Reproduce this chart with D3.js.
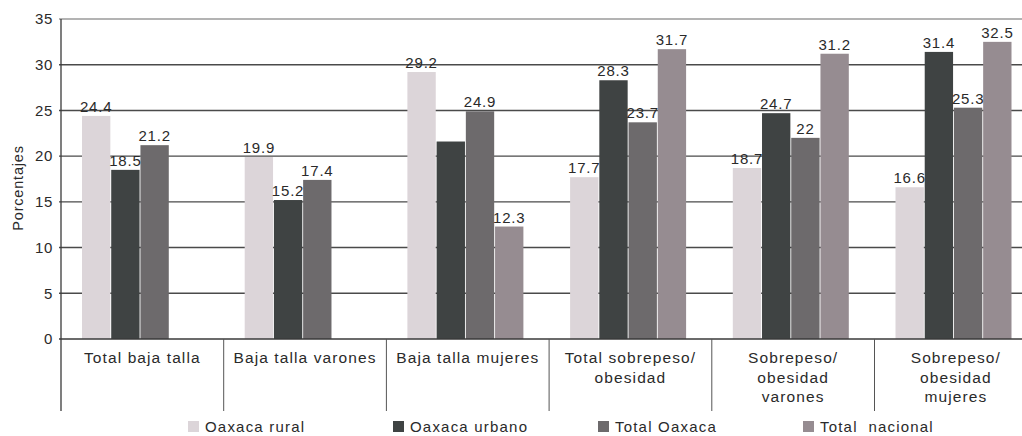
<!DOCTYPE html>
<html>
<head>
<meta charset="utf-8">
<script src="https://cdn.jsdelivr.net/npm/d3@7"></script>
<style>
  html, body { margin: 0; padding: 0; background: #fff; }
  svg { display: block; }
  text { font-family: "Liberation Sans", Arial, sans-serif; fill: #2a2a2a; }
</style>
</head>
<body>
<svg id="chart" width="1022" height="436"></svg>
<script>
const categories = [
  "Total baja talla",
  "Baja talla varones",
  "Baja talla mujeres",
  "Total sobrepeso/\nobesidad",
  "Sobrepeso/\nobesidad\nvarones",
  "Sobrepeso/\nobesidad\nmujeres"
];
const seriesNames = ["Oaxaca rural", "Oaxaca urbano", "Total Oaxaca", "Total  nacional"];
const oaxacaRural   = [24.4, 19.9, 29.2, 17.7, 18.7, 16.6];
const oaxacaUrbano  = [18.5, 15.2, 21.6, 28.3, 24.7, 31.4];
const totalOaxaca   = [21.2, 17.4, 24.9, 23.7, 22, 25.3];
const totalNacional = [null, null, 12.3, 31.7, 31.2, 32.5];
// bars whose value is not printed in the original
const unlabeled = [[2, 1]];
const yTicks = [0, 5, 10, 15, 20, 25, 30, 35];
const colors = ["#dcd5d9", "#3f4343", "#6d6a6c", "#968c91"];
const yTitle = "Porcentajes";

const seriesValues = [oaxacaRural, oaxacaUrbano, totalOaxaca, totalNacional];

(function () {
const svg = d3.select("#chart");
const mLeft = 61, mTop = 19, mBottom = 339, bandW = 162.7;

const y = d3.scaleLinear().domain([0, 35]).range([mBottom, mTop]);
const x0 = d3.scaleBand().domain(categories.map((c, i) => i))
  .range([mLeft, mLeft + bandW * categories.length]).padding(0);
const x1 = d3.scaleBand().domain(d3.range(seriesNames.length))
  .range([21, 137]).paddingInner(0.03);

// gridlines
svg.append("g").selectAll("line").data(yTicks.filter(t => t > 0)).join("line")
  .attr("x1", mLeft - 2).attr("x2", 1022)
  .attr("y1", d => y(d)).attr("y2", d => y(d))
  .attr("stroke", d => d === 35 ? "#9a9a9a" : "#4a4a4a")
  .attr("stroke-width", 1.4);

// bars
const groups = svg.append("g").selectAll("g").data(categories).join("g")
  .attr("transform", (c, i) => `translate(${x0(i)},0)`);
groups.each(function(c, ci) {
  const g = d3.select(this);
  const data = seriesValues.map((arr, si) => ({ si, v: arr[ci] })).filter(d => d.v != null);
  g.selectAll("rect").data(data).join("rect")
    .attr("x", d => x1(d.si)).attr("width", x1.bandwidth())
    .attr("y", d => y(d.v)).attr("height", d => y(0) - y(d.v))
    .attr("fill", d => colors[d.si]);
  g.selectAll("text.val").data(data.filter(d => !unlabeled.some(u => u[0] === ci && u[1] === d.si)))
    .join("text").attr("class", "val")
    .attr("x", d => x1(d.si) + x1.bandwidth() / 2)
    .attr("y", d => y(d.v) - 4)
    .attr("text-anchor", "middle")
    .attr("font-size", 15)
    .attr("letter-spacing", 0.8)
    .text(d => String(d.v));
});

// baseline and left axis
svg.append("line").attr("x1", mLeft - 2).attr("x2", 1022).attr("y1", y(0)).attr("y2", y(0))
  .attr("stroke", "#3a3a3a").attr("stroke-width", 1.5);
svg.append("line").attr("x1", mLeft).attr("x2", mLeft).attr("y1", mTop).attr("y2", 411)
  .attr("stroke", "#3a3a3a").attr("stroke-width", 1.3);

// category separators
svg.append("g").selectAll("line").data(categories.slice(1).map((c, i) => i + 1)).join("line")
  .attr("x1", d => x0(d)).attr("x2", d => x0(d))
  .attr("y1", y(0)).attr("y2", 411)
  .attr("stroke", "#555").attr("stroke-width", 1);

// y tick labels
svg.append("g").selectAll("text").data(yTicks).join("text")
  .attr("x", 53).attr("y", d => y(d)).attr("dy", "0.35em")
  .attr("text-anchor", "end").attr("font-size", 15).attr("letter-spacing", 0.6)
  .text(d => d);

// y title
svg.append("text")
  .attr("transform", `translate(23,${188}) rotate(-90)`)
  .attr("text-anchor", "middle").attr("font-size", 14.5)
  .attr("letter-spacing", 0.8)
  .text(yTitle);

// category labels
const catLabels = svg.append("g").selectAll("text").data(categories).join("text")
  .attr("x", (c, i) => x0(i) + x0.bandwidth() / 2)
  .attr("y", 363)
  .attr("text-anchor", "middle").attr("font-size", 15.5).attr("letter-spacing", 1.1);
catLabels.each(function(c) {
  const tx = d3.select(this).attr("x");
  d3.select(this).selectAll("tspan").data(c.split("\n")).join("tspan")
    .attr("x", tx)
    .attr("dy", (d, i) => i === 0 ? 0 : 19.5)
    .text(d => d);
});

// legend
const lx = d3.scaleLinear().domain([0, 3]).range([188, 803]);
const leg = svg.append("g").selectAll("g").data(seriesNames).join("g")
  .attr("transform", (d, i) => `translate(${lx(i)},0)`);
leg.append("rect").attr("x", 0).attr("y", 421).attr("width", 11).attr("height", 11)
  .attr("fill", (d, i) => colors[i]);
leg.append("text").attr("x", 17).attr("y", 432)
  .attr("font-size", 15).attr("letter-spacing", 1.2)
  .style("white-space", "pre")
  .text(d => d);
})();
</script>
</body>
</html>
